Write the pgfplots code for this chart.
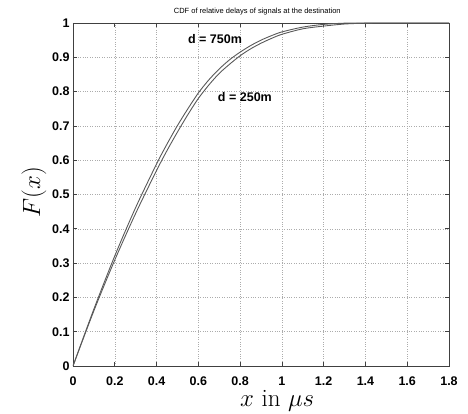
\documentclass[border=0pt]{standalone}
\usepackage{fontspec}
\usepackage{pgfplots}
\pgfplotsset{compat=1.18}
\newfontfamily\hv{Liberation Sans}
\begin{document}
\begin{tikzpicture}
\begin{axis}[
  scale only axis, width=376pt, height=343pt,
  xmin=0, xmax=1.8, ymin=0, ymax=1,
  xtick={0,0.2,0.4,0.6,0.8,1,1.2,1.4,1.6,1.8},
  xticklabels={0,0.2,0.4,0.6,0.8,1,1.2,1.4,1.6,1.8},
  ytick={0,0.1,0.2,0.3,0.4,0.5,0.6,0.7,0.8,0.9,1},
  yticklabels={0,0.1,0.2,0.3,0.4,0.5,0.6,0.7,0.8,0.9,1},
  tick pos=both, tick align=inside, major tick length=4pt,
  grid=major, major grid style={dotted, gray!65},
  axis line style={black!75, line width=0.8pt},
  tick style={black!75, line width=0.6pt},
  /pgf/number format/assume math mode=true,
  ticklabel style={font=\hv\bfseries\fontsize{12.5}{14}\selectfont},
  xticklabel style={yshift=-7pt},
  title={CDF of relative delays of signals at the destination},
  title style={at={(axis description cs:0.49,1)}, anchor=south, inner sep=0pt, yshift=2pt, font=\hv\fontsize{7.5}{9}\selectfont},
  xlabel={$x$ in $\mu s$},
  xlabel style={at={(axis description cs:0.543,0)}, anchor=north, inner sep=0pt, yshift=-24pt, font=\fontsize{25}{30}\selectfont},
  ylabel={$F(x)$},
  ylabel style={at={(axis description cs:-0.104,0.507)}, anchor=center, inner sep=0pt, font=\fontsize{25}{30}\selectfont},
]
% d = 750m
\addplot[black!65, line width=0.9pt, smooth, tension=0.5] coordinates {
(0,0) (0.1,0.166) (0.2,0.321) (0.3,0.462) (0.4,0.589) (0.45,0.647) (0.5,0.701) (0.55,0.750) (0.6,0.796) (0.65,0.834) (0.7,0.866) (0.75,0.893) (0.8,0.915) (0.85,0.934) (0.9,0.950) (0.95,0.963) (1.0,0.974) (1.1,0.988) (1.2,0.996) (1.3,0.9995) (1.4,1.0) (1.6,1.0) (1.8,1.0)
};
% d = 250m
\addplot[black!65, line width=0.9pt, smooth, tension=0.5] coordinates {
(0,0) (0.1,0.161) (0.2,0.309) (0.3,0.445) (0.4,0.570) (0.45,0.628) (0.5,0.682) (0.55,0.733) (0.6,0.780) (0.65,0.819) (0.7,0.853) (0.75,0.880) (0.8,0.9045) (0.85,0.9245) (0.9,0.941) (0.95,0.955) (1.0,0.967) (1.1,0.983) (1.2,0.991) (1.3,0.997) (1.4,0.9995) (1.5,1.0) (1.8,1.0)
};
\node[font=\hv\bfseries\fontsize{12.5}{14}\selectfont] at (axis cs:0.68,0.953) {d = 750m};
\node[font=\hv\bfseries\fontsize{12.5}{14}\selectfont] at (axis cs:0.823,0.784) {d = 250m};
\end{axis}
\useasboundingbox ([shift={(-73pt,-48pt)}]current axis.south west) rectangle ([shift={(19pt,23pt)}]current axis.north east);
\end{tikzpicture}
\end{document}
